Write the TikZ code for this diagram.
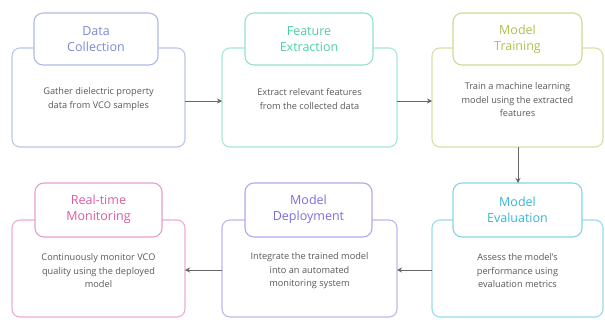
\documentclass[tikz,border=0pt]{standalone}
\usepackage{fontspec}
\setmainfont{Open Sans}
\usetikzlibrary{arrows.meta}
\definecolor{cA}{HTML}{7B8BD6}
\definecolor{cB}{HTML}{4FCFA8}
\definecolor{cC}{HTML}{B3BF4E}
\definecolor{cD}{HTML}{34B8D8}
\definecolor{cE}{HTML}{7A6FDB}
\definecolor{cF}{HTML}{D95CA2}
\definecolor{bodytxt}{HTML}{5A5A5A}
\definecolor{arr}{HTML}{666666}
\tikzset{
  bigbox/.style={draw=#1!50, line width=1.1pt, rounded corners=8pt, fill=white},
  titlebox/.style={draw=#1!60, line width=1.1pt, rounded corners=9pt, fill=white},
  ttext/.style={text=#1, font=\fontsize{12.5}{16}\selectfont, align=center},
  btext/.style={text=bodytxt, font=\fontsize{9.2}{13.5}\selectfont, align=center},
  flow/.style={draw=arr, line width=0.9pt, -{Stealth[length=5pt,width=5pt]}}
}
\begin{document}
\begin{tikzpicture}[x=1pt,y=-1pt]
\useasboundingbox (0,0) rectangle (605,322);
% top row
\draw[bigbox=cA] (12,48) rectangle (185,147);
\draw[titlebox=cA] (34,13) rectangle (158,65);
\node[ttext=cA] (At) at (96,39.5) {Data\\Collection};
\node[btext] (Ab) at (98.5,99) {Gather dielectric property\\data from VCO samples};
\node[coordinate] (Ar) at (185,101) {};

\draw[bigbox=cB] (222,48) rectangle (397,147);
\draw[titlebox=cB] (245,13) rectangle (373,65);
\node[ttext=cB] (Bt) at (309,39.5) {Feature\\Extraction};
\node[btext] (Bb) at (309.5,99) {Extract relevant features\\from the collected data};
\node[coordinate] (Bl) at (222,101) {};
\node[coordinate] (Br) at (397,101) {};

\draw[bigbox=cC] (432,48) rectangle (603,147);
\draw[titlebox=cC] (453,13) rectangle (582,65);
\node[ttext=cC] (Ct) at (517.5,39.5) {Model\\Training};
\node[btext] (Cb) at (517.5,100) {Train a machine learning\\model using the extracted\\features};
\node[coordinate] (Cl) at (432,101) {};
\node[coordinate] (Cd) at (518,147) {};

% bottom row
\draw[bigbox=cD] (432,220) rectangle (603,317);
\draw[titlebox=cD] (453,183) rectangle (582,237);
\node[ttext=cD] (Dt) at (517.5,209.5) {Model\\Evaluation};
\node[btext] (Db) at (517.5,271) {Assess the model's\\performance using\\evaluation metrics};
\node[coordinate] (Du) at (518,183) {};
\node[coordinate] (Dl) at (432,270) {};

\draw[bigbox=cE] (222,220) rectangle (397,317);
\draw[titlebox=cE] (245,183) rectangle (372,237);
\node[ttext=cE] (Et) at (308.5,209.5) {Model\\Deployment};
\node[btext] (Eb) at (309.5,271) {Integrate the trained model\\into an automated\\monitoring system};
\node[coordinate] (Er) at (397,270) {};
\node[coordinate] (El) at (222,270) {};

\draw[bigbox=cF] (12,220) rectangle (185,317);
\draw[titlebox=cF] (35,183) rectangle (162,237);
\node[ttext=cF] (Ft) at (98.5,209.5) {Real-time\\Monitoring};
\node[btext] (Fb) at (98.5,271) {Continuously monitor VCO\\quality using the deployed\\model};
\node[coordinate] (Fr) at (185,270) {};

\draw[flow] (Ar) -- (Bl);
\draw[flow] (Br) -- (Cl);
\draw[flow] (Cd) -- (Du);
\draw[flow] (Dl) -- (Er);
\draw[flow] (El) -- (Fr);
\end{tikzpicture}
\end{document}
